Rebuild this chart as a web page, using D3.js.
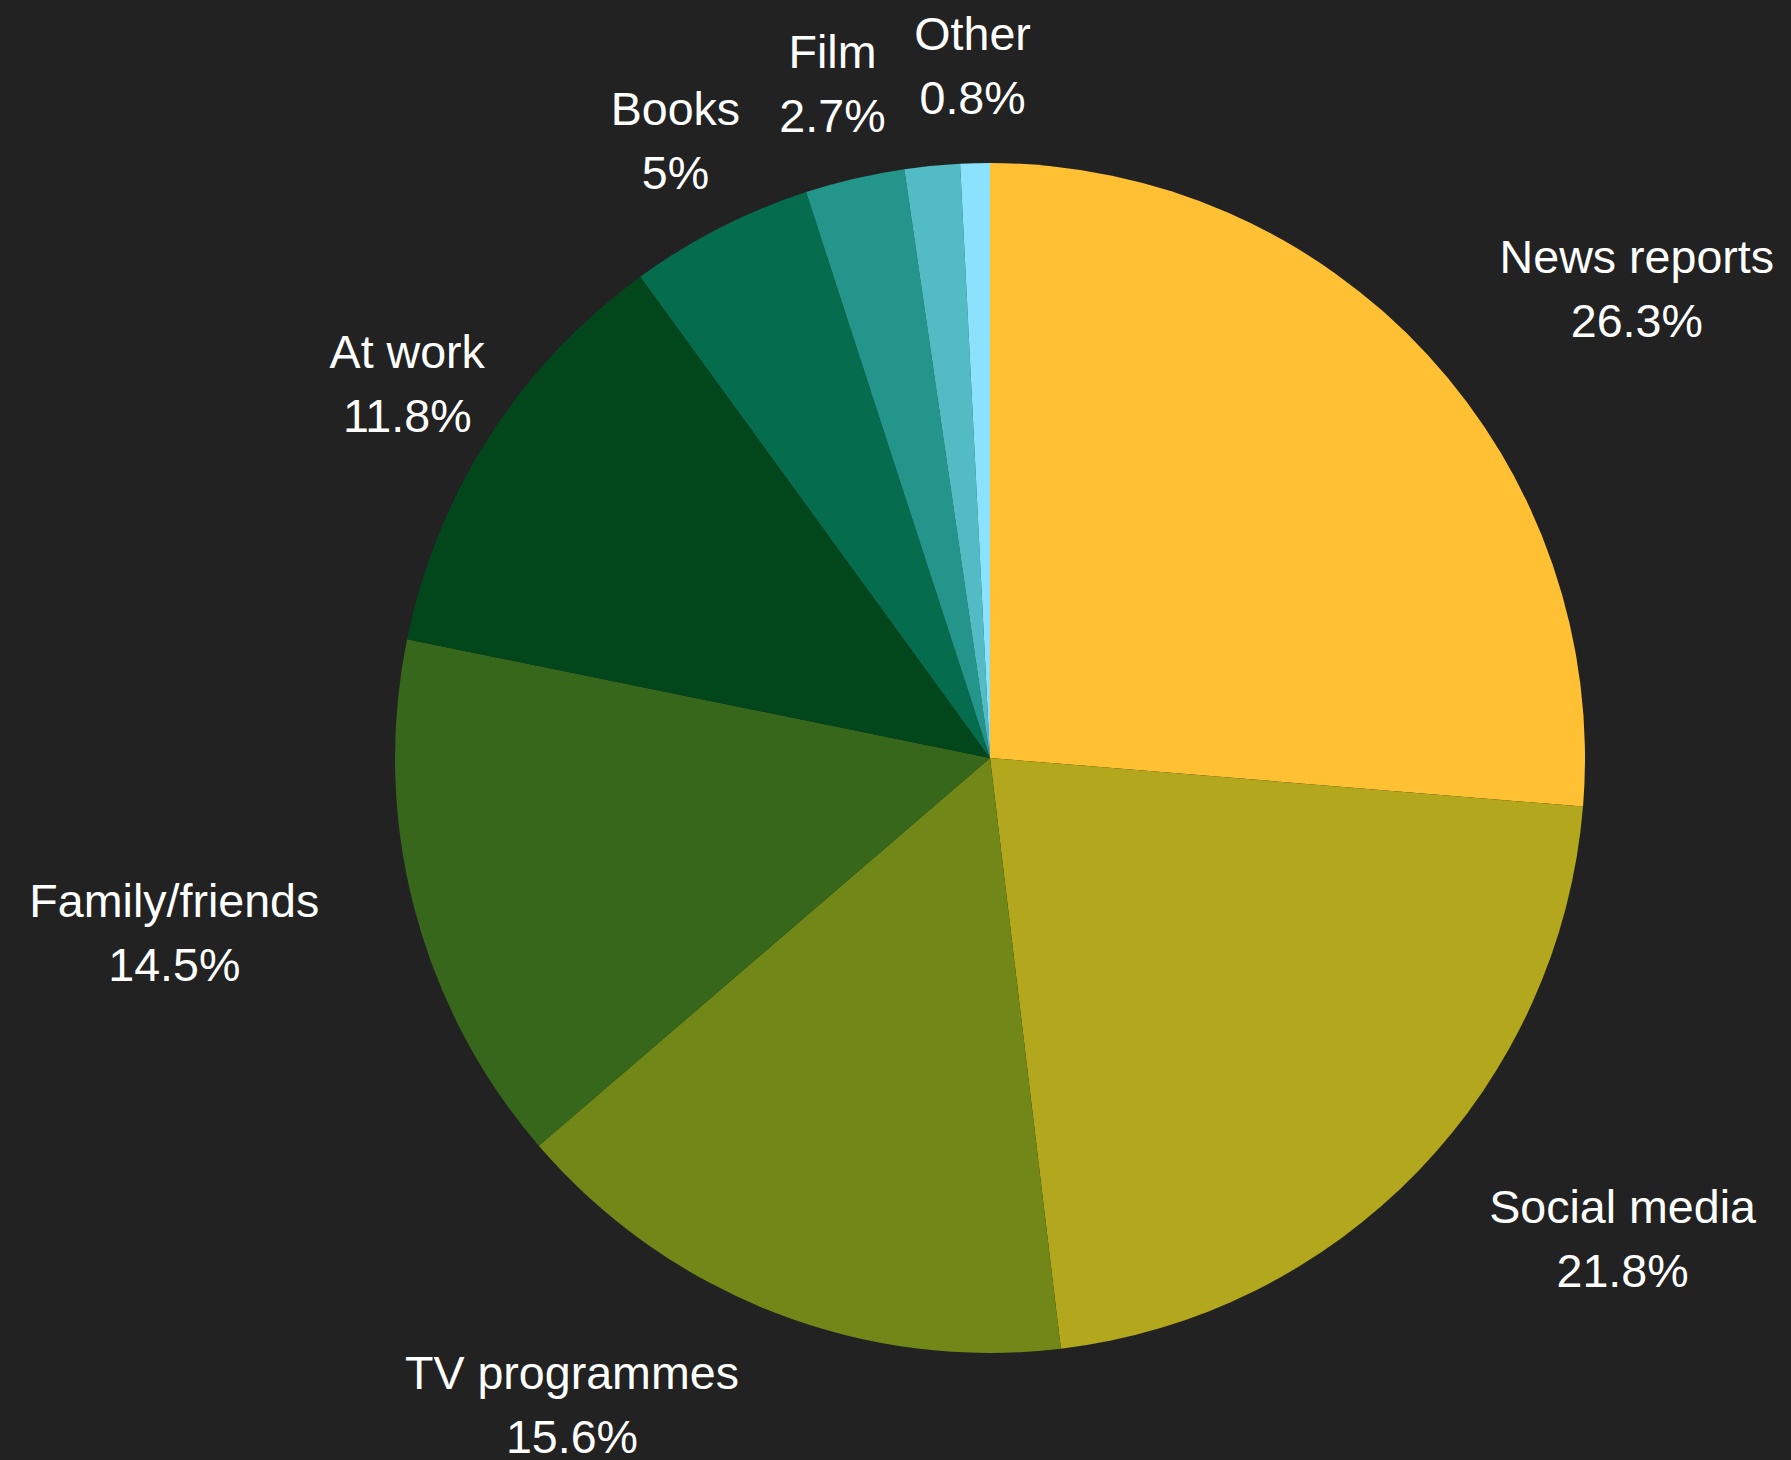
<!DOCTYPE html>
<html>
<head>
<meta charset="utf-8">
<script src="https://cdn.jsdelivr.net/npm/d3@7"></script>
<style>
  html, body { margin: 0; padding: 0; background: #222222; }
  svg { display: block; }
</style>
</head>
<body>
<svg id="chart" width="1791" height="1460"></svg>
<script>
// Where people hear about the topic (share of responses, %)
const categories = ["News reports", "Social media", "TV programmes", "Family/friends", "At work", "Books", "Film", "", "Other"];
const shares = [26.3, 21.8, 15.6, 14.5, 11.8, 5, 2.7, 1.5, 0.8];
const sliceColors = ["#ffc033", "#b2a71d", "#718818", "#37671b", "#02461c", "#066c4e", "#24958a", "#52bbc4", "#8ae2fc"];

const width = 1791, height = 1460;
const cx = 990, cy = 758;
const radius = 595;
const labelRadius = 693;
const fontSize = 46.6;
const lineGap = 64;
const capHeight = 0.716 * fontSize;

const data = categories.map((c, i) => ({ index: i, category: c, value: shares[i] }));

const pie = d3.pie().value(d => d.value).sort(null);
const arc = d3.arc().innerRadius(0).outerRadius(radius);
const color = d3.scaleOrdinal().domain(d3.range(categories.length)).range(sliceColors);

const svg = d3.select("#chart");
svg.append("rect").attr("width", width).attr("height", height).attr("fill", "#222222");

const g = svg.append("g").attr("transform", `translate(${cx},${cy})`);
const arcs = pie(data);

g.selectAll("path.slice")
  .data(arcs)
  .join("path")
  .attr("class", "slice")
  .attr("d", arc)
  .attr("fill", d => color(d.data.index));

// Outside labels: name on the first line, share on the second, both centred
const labels = g.selectAll("text.label")
  .data(arcs.filter(d => d.data.category !== ""))
  .join("text")
  .attr("class", "label")
  .attr("fill", "#ffffff")
  .attr("font-family", "'Liberation Sans', Arial, Helvetica, sans-serif")
  .attr("font-size", fontSize)
  .attr("text-anchor", "middle");

labels.each(function (d) {
  const a = (d.startAngle + d.endAngle) / 2;
  const px = labelRadius * Math.sin(a);
  const py = -labelRadius * Math.cos(a);
  const t = d3.select(this);
  const y1 = py + (capHeight - lineGap) / 2;
  const l1 = t.append("tspan").attr("x", px).attr("y", y1).text(d.data.category);
  const l2 = t.append("tspan").attr("x", px).attr("y", y1 + lineGap).text(d.data.value + "%");
  const w = Math.max(l1.node().getComputedTextLength(), l2.node().getComputedTextLength());
  const h = 2 * lineGap;
  // nearest point of the centred label box to the pie centre
  const x0 = px - w / 2, x1 = px + w / 2, yTop = py - h / 2, yBot = py + h / 2;
  const nx = Math.max(x0, Math.min(0, x1));
  const ny = Math.max(yTop, Math.min(0, yBot));
  const dist = Math.hypot(nx, ny);
  if (dist < radius - 4) {
    // push the block sideways so its inner edge sits on the label point
    const bx = px + (px > 0 ? w / 2 : -w / 2);
    l1.attr("x", bx);
    l2.attr("x", bx);
  }
});
</script>
</body>
</html>
